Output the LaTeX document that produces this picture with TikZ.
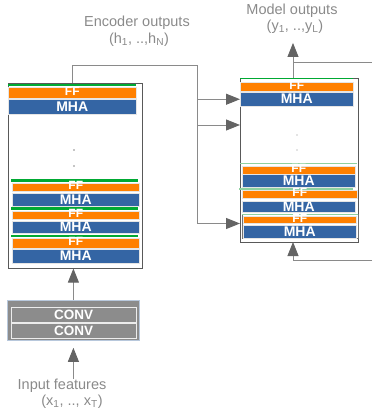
\documentclass[tikz,border=0pt]{standalone}
\usepackage{fontspec}
\setmainfont{Liberation Sans}
\usetikzlibrary{arrows.meta}

\definecolor{ffor}{HTML}{FF8000}
\definecolor{mhablue}{HTML}{3465A4}
\definecolor{resgreen}{HTML}{00A933}
\definecolor{palegreen}{HTML}{8ED1A0}
\definecolor{convgray}{HTML}{8C8C8C}
\definecolor{convedge}{HTML}{B8C8DC}
\definecolor{labelgray}{HTML}{8A8A8A}
\definecolor{wiregray}{HTML}{8A8A8A}
\definecolor{tipgray}{HTML}{646464}

\tikzset{
  layer/.style={anchor=north west, inner sep=0pt, draw=white!80!gray, line width=0.5pt,
    text=white, font=\bfseries\fontsize{14}{14}\selectfont},
  ff/.style={layer, fill=ffor, font=\bfseries\fontsize{12}{12}\selectfont, text height=5pt, text depth=0pt},
  mha/.style={layer, fill=mhablue, text height=9.5pt, text depth=0pt},
  convlayer/.style={layer, fill=convgray, draw=white!85!gray, font=\bfseries\fontsize{13.5}{14}\selectfont,
    text height=9pt, text depth=0pt},
  res/.style={anchor=north west, inner sep=0pt, fill=resgreen},
  stack/.style={anchor=north west, draw=black!65, line width=0.6pt, inner sep=0pt},
  wire/.style={draw=wiregray, line width=0.9pt},
  arr/.style={wire, -{Triangle[length=14pt, width=11pt, color=tipgray]}},
  caption/.style={text=labelgray, font=\fontsize{14.5}{16}\selectfont, inner sep=0pt},
}

\begin{document}
\begin{tikzpicture}[x=1pt, y=-1pt]
  \useasboundingbox (0,0) rectangle (372,414);

  % Encoder stack
  \node[stack, minimum width=134pt, minimum height=185pt] (enc) at (8,83) {};
  \node[res, minimum width=128pt, minimum height=2pt] (encRes4) at (8,83.5) {};
  \node[ff, minimum width=128pt, minimum height=11.5pt] (encFF4) at (8,87) {FF};
  \node[mha, minimum width=128pt, minimum height=15pt] (encMHA4) at (8,99) {MHA};
  \fill[labelgray] (74,150) circle (0.8pt);
  \fill[labelgray] (74,166) circle (0.8pt);
  \node[res, minimum width=127pt, minimum height=2.5pt] (encRes3) at (11,179) {};
  \node[ff, minimum width=127pt, minimum height=8pt] (encFF3) at (12,183) {FF};
  \node[mha, minimum width=127pt, minimum height=13.5pt] (encMHA3) at (12,192.5) {MHA};
  \node[res, minimum width=127pt, minimum height=2.5pt] (encRes2) at (11,207) {};
  \node[ff, minimum width=127pt, minimum height=8pt] (encFF2) at (12,211) {FF};
  \node[mha, minimum width=127pt, minimum height=12.5pt] (encMHA2) at (12,220.5) {MHA};
  \node[res, minimum width=127pt, minimum height=2.5pt] (encRes1) at (11,234.5) {};
  \node[ff, minimum width=127pt, minimum height=9.5pt] (encFF1) at (12,238) {FF};
  \node[mha, minimum width=127pt, minimum height=14.5pt] (encMHA1) at (12,248.5) {MHA};

  % Decoder stack
  \node[stack, minimum width=118pt, minimum height=164pt] (dec) at (240,78) {};
  \node[res, minimum width=113pt, minimum height=1.2pt] (decRes4) at (240,77.5) {};
  \node[ff, minimum width=113pt, minimum height=9pt] (decFF4) at (240,82) {FF};
  \node[mha, minimum width=113pt, minimum height=14pt] (decMHA4) at (240,92) {MHA};
  \fill[labelgray] (297,135) circle (0.7pt);
  \fill[labelgray] (297,150) circle (0.7pt);
  \node[res, fill=palegreen, minimum width=117pt, minimum height=1.5pt] (decRes3) at (240,162.5) {};
  \node[ff, minimum width=113pt, minimum height=7.5pt] (decFF3) at (242,166) {FF};
  \node[mha, minimum width=113pt, minimum height=13pt] (decMHA3) at (242,174) {MHA};
  \node[res, fill=palegreen, minimum width=114pt, minimum height=2pt] (decRes2) at (239,187.5) {};
  \node[ff, minimum width=115pt, minimum height=8pt] (decFF2) at (242,190) {FF};
  \node[mha, minimum width=113pt, minimum height=11.5pt] (decMHA2) at (242,200.5) {MHA};
  \node[stack, draw=black!55, line width=0.5pt, minimum width=116pt, minimum height=24pt] (decBlk1) at (242,214) {};
  \node[res, fill=palegreen, minimum width=116pt, minimum height=1.5pt] (decRes1) at (242,213.5) {};
  \node[ff, minimum width=113pt, minimum height=7pt] (decFF1) at (243,216) {FF};
  \node[mha, minimum width=113pt, minimum height=13pt] (decMHA1) at (243,225) {MHA};

  % Convolutional front end
  \node[stack, fill=convgray, draw=convedge, line width=0.8pt, minimum width=132pt, minimum height=40pt] (conv) at (7,300) {};
  \node[convlayer, minimum width=125pt, minimum height=15pt] (conv2) at (11,307) {CONV};
  \node[convlayer, minimum width=125pt, minimum height=15pt] (conv1) at (11,323) {CONV};

  % Captions
  \node[caption] (encout) at (137,23) {Encoder outputs};
  \node[caption] (encseq) at (139,40) {(h\textsubscript{1}, ..,h\textsubscript{N})};
  \node[caption] (modout) at (292,11) {Model outputs};
  \node[caption] (modseq) at (295,27) {(y\textsubscript{1}, ..,y\textsubscript{L})};
  \node[caption] (inp) at (62,386) {Input features};
  \node[caption] (inpseq) at (72,402) {(x\textsubscript{1}, .., x\textsubscript{T})};

  % Encoder outputs to every decoder block
  \coordinate (bus) at (197,65);
  \coordinate (gap) at (197,125);
  \draw[arr] (encMHA4.north |- enc.north) |- (bus) |- (dec.west |- decFF1.south);
  \draw[arr] (bus |- decMHA4) -- (dec.west |- decMHA4);
  \draw[arr] (gap) -- (dec.west |- gap);

  % Decoder output and feedback
  \coordinate (dtop) at (293,78);
  \coordinate (dbot) at (293,242);
  \coordinate (fbout) at (372,62);
  \coordinate (fbin) at (372,260);
  \draw[arr, shorten >=9pt] (dtop) -- (dtop |- modseq.south);
  \draw[wire] (dtop |- fbout) -- (fbout);
  \draw[arr] (fbin) -| (dbot);

  % Input path
  \draw[arr] (conv.north) -- (conv.north |- enc.south);
  \draw[arr, shorten >=7pt] (conv.south |- inp.north) -- (conv.south);
\end{tikzpicture}
\end{document}
